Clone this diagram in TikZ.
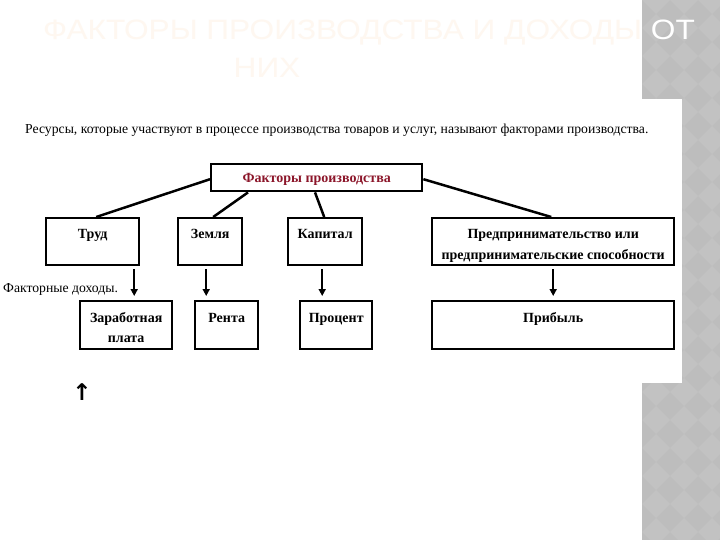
\documentclass[tikz,border=0pt]{standalone}
\usepackage{fontspec}
\setmainfont{Liberation Serif}
\newfontfamily\titlefont[FakeStretch=1.13]{Liberation Sans}
\newfontfamily\symfont{DejaVu Sans}
\usetikzlibrary{arrows.meta}
\definecolor{faint}{RGB}{254,247,240}
\definecolor{stripgray}{RGB}{189,189,189}
\definecolor{stripdia}{RGB}{194,194,194}
\definecolor{darkred}{RGB}{140,22,42}
\begin{document}
\begin{tikzpicture}[x=1pt,y=-1pt,
  box/.style={draw=black,line width=2.4pt,inner sep=0pt,anchor=north west},
  lbl/.style={font=\fontsize{14}{16}\selectfont\bfseries,inner sep=0pt,anchor=base},
  plain/.style={font=\fontsize{13.7}{16}\selectfont,inner sep=0pt,anchor=base west},
  conn/.style={line width=2.5pt},
  arr/.style={line width=1.8pt,-{Triangle[length=7pt,width=7pt]}}]
\useasboundingbox (0,0) rectangle (720,540);
\fill[white] (0,0) rectangle (720,540);
% patterned strip
\fill[stripgray] (642,0) rectangle (720,540);
\begin{scope}
\clip (642,0) rectangle (720,540);
\foreach \i in {0,...,3}{
  \foreach \j in {0,...,20}{
    \fill[stripdia] ({642+28*\i},{28*\j}) -- ++(14,-14) -- ++(14,14) -- ++(-14,14) -- cycle;
  }}
\end{scope}
% embedded picture area
\fill[white] (0,99) rectangle (682,383);
% title
\node[inner sep=0pt,anchor=base west,font=\titlefont\fontsize{28}{30}\selectfont] (title1) at (43,40)
  {\color{faint}ФАКТОРЫ ПРОИЗВОДСТВА И ДОХОДЫ \color{white}ОТ};
\node[inner sep=0pt,anchor=base,font=\titlefont\fontsize{28}{30}\selectfont,text=faint] (title2) at (267,78) {НИХ};
% sentence
\node[plain] (intro) at (25,134) {Ресурсы, которые участвуют в процессе производства товаров и услуг, называют факторами производства.};
% top box
\node[box,minimum width=211,minimum height=27] (fp) at (210,163) {};
\node[lbl,text=darkred] (fpt) at ([yshift=-20]fp.north) {Факторы производства};
% row 1
\node[box,minimum width=93,minimum height=47] (trud) at (45,217) {};
\node[box,minimum width=64,minimum height=47] (zem) at (177,217) {};
\node[box,minimum width=74,minimum height=47] (kap) at (287,217) {};
\node[box,minimum width=242,minimum height=47] (pred) at (431,217) {};
\node[lbl] (trudt) at ([yshift=-22]trud.north) {Труд};
\node[lbl] (zemt) at ([yshift=-22]zem.north) {Земля};
\node[lbl] (kapt) at ([yshift=-22]kap.north) {Капитал};
\node[lbl] (predt1) at ([yshift=-22]pred.north) {Предпринимательство или};
\node[lbl] (predt2) at ([yshift=-42]pred.north) {предпринимательские способности};
% row 2
\node[box,minimum width=92,minimum height=48] (zp) at (79,300) {};
\node[box,minimum width=63,minimum height=48] (renta) at (194,300) {};
\node[box,minimum width=72,minimum height=48] (proc) at (299,300) {};
\node[box,minimum width=242,minimum height=48] (prib) at (431,300) {};
\node[lbl] (zpt1) at ([yshift=-22]zp.north) {Заработная};
\node[lbl] (zpt2) at ([yshift=-42]zp.north) {плата};
\node[lbl] (rentat) at ([yshift=-22]renta.north) {Рента};
\node[lbl] (proct) at ([yshift=-22]proc.north) {Процент};
\node[lbl] (pribt) at ([yshift=-22]prib.north) {Прибыль};
\node[plain] (fd) at (3,292) {Факторные доходы.};
% connectors
\draw[conn] ([yshift=-1.5]fp.west) -- ([xshift=3.5]trud.north);
\draw[conn] ([xshift=38]fp.south west) -- ([xshift=3]zem.north);
\draw[conn] ([xshift=105]fp.south west) -- ([xshift=-1]kap.north);
\draw[conn] ([yshift=-1.5]fp.east) -- ([xshift=-2]pred.north);
% arrows
\draw[arr,shorten <=3pt,shorten >=4pt] ([xshift=41.5]trud.south) -- ([xshift=8]zp.north);
\draw[arr,shorten <=3pt,shorten >=4pt] ([xshift=-4]zem.south) -- ([xshift=-20.5]renta.north);
\draw[arr,shorten <=3pt,shorten >=4pt] ([xshift=-3]kap.south) -- ([xshift=-14]proc.north);
\draw[arr,shorten <=3pt,shorten >=4pt] (pred.south) -- (prib.north);
% stray arrow glyph
\node[inner sep=0pt,font=\symfont\bfseries\fontsize{23}{25}\selectfont] (up) at (82,392) {↑};
\end{tikzpicture}
\end{document}
